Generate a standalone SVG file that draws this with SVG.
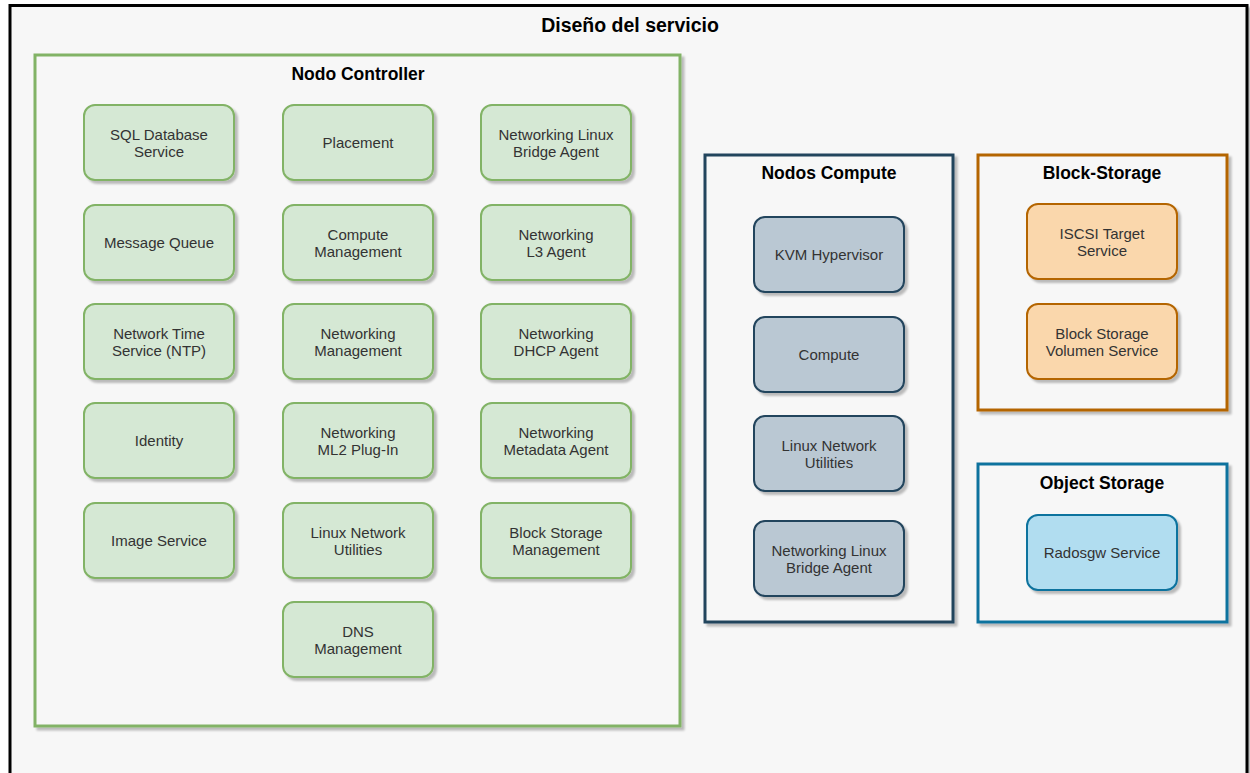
<svg xmlns="http://www.w3.org/2000/svg" width="1250" height="773" viewBox="0 0 1250 773">
  <defs>
    <filter id="shadow" x="-10%" y="-10%" width="130%" height="130%">
      <feOffset in="SourceAlpha" dx="3" dy="3" result="off"/>
      <feGaussianBlur in="off" stdDeviation="0.8" result="blur"/>
      <feComponentTransfer in="blur" result="sh">
        <feFuncA type="linear" slope="0.25"/>
      </feComponentTransfer>
      <feMerge>
        <feMergeNode in="sh"/>
        <feMergeNode in="SourceGraphic"/>
      </feMerge>
    </filter>
    <style>
      .frame { fill: #f7f7f7; stroke-width: 3; filter: url(#shadow); }
      .box { stroke-width: 2; filter: url(#shadow); }
      .green { fill: #d5e8d4; stroke: #82b366; }
      .slate { fill: #bac8d3; stroke: #23445d; }
      .orange { fill: #fad7ac; stroke: #b46504; }
      .blue { fill: #b1ddf0; stroke: #10739e; }
      .title { font-family: "Liberation Sans", Arial, sans-serif; font-weight: bold; font-size: 17.5px; fill: #000; text-anchor: middle; }
      .main { font-size: 19.5px; }
      .label { font-family: "Liberation Sans", Arial, sans-serif; font-size: 15px; fill: #333; text-anchor: middle; }
    </style>
  </defs>

  <rect x="0" y="0" width="1250" height="773" fill="#ffffff"/>

  <!-- outer frame -->
  <g id="servicio">
    <rect class="frame" x="10" y="5.5" width="1237" height="790" stroke="#000"/>
    <text class="title main" x="630" y="32">Diseño del servicio</text>
  </g>

  <!-- controller node container -->
  <g id="controller">
    <rect class="frame" x="35" y="55" width="645" height="671" stroke="#82b366"/>
    <text class="title" x="358" y="80">Nodo Controller</text>
  </g>

  <g id="sql"><rect class="box green" x="84" y="105" width="150" height="75" rx="11"/><text class="label" x="159" y="140">SQL Database</text><text class="label" x="159" y="157">Service</text></g>
  <g id="placement"><rect class="box green" x="283" y="105" width="150" height="75" rx="11"/><text class="label" x="358" y="148">Placement</text></g>
  <g id="linuxbridge-ctl"><rect class="box green" x="481" y="105" width="150" height="75" rx="11"/><text class="label" x="556" y="140">Networking Linux</text><text class="label" x="556" y="157">Bridge Agent</text></g>

  <g id="mq"><rect class="box green" x="84" y="205" width="150" height="75" rx="11"/><text class="label" x="159" y="248">Message Queue</text></g>
  <g id="compute-mgmt"><rect class="box green" x="283" y="205" width="150" height="75" rx="11"/><text class="label" x="358" y="240">Compute</text><text class="label" x="358" y="257">Management</text></g>
  <g id="l3"><rect class="box green" x="481" y="205" width="150" height="75" rx="11"/><text class="label" x="556" y="240">Networking</text><text class="label" x="556" y="257">L3 Agent</text></g>

  <g id="ntp"><rect class="box green" x="84" y="304" width="150" height="75" rx="11"/><text class="label" x="159" y="339">Network Time</text><text class="label" x="159" y="356">Service (NTP)</text></g>
  <g id="net-mgmt"><rect class="box green" x="283" y="304" width="150" height="75" rx="11"/><text class="label" x="358" y="339">Networking</text><text class="label" x="358" y="356">Management</text></g>
  <g id="dhcp"><rect class="box green" x="481" y="304" width="150" height="75" rx="11"/><text class="label" x="556" y="339">Networking</text><text class="label" x="556" y="356">DHCP Agent</text></g>

  <g id="identity"><rect class="box green" x="84" y="403" width="150" height="75" rx="11"/><text class="label" x="159" y="446">Identity</text></g>
  <g id="ml2"><rect class="box green" x="283" y="403" width="150" height="75" rx="11"/><text class="label" x="358" y="438">Networking</text><text class="label" x="358" y="455">ML2 Plug-In</text></g>
  <g id="metadata"><rect class="box green" x="481" y="403" width="150" height="75" rx="11"/><text class="label" x="556" y="438">Networking</text><text class="label" x="556" y="455">Metadata Agent</text></g>

  <g id="image"><rect class="box green" x="84" y="503" width="150" height="75" rx="11"/><text class="label" x="159" y="546">Image Service</text></g>
  <g id="netutils-ctl"><rect class="box green" x="283" y="503" width="150" height="75" rx="11"/><text class="label" x="358" y="538">Linux Network</text><text class="label" x="358" y="555">Utilities</text></g>
  <g id="block-mgmt"><rect class="box green" x="481" y="503" width="150" height="75" rx="11"/><text class="label" x="556" y="538">Block Storage</text><text class="label" x="556" y="555">Management</text></g>

  <g id="dns"><rect class="box green" x="283" y="602" width="150" height="75" rx="11"/><text class="label" x="358" y="637">DNS</text><text class="label" x="358" y="654">Management</text></g>

  <!-- compute nodes container -->
  <g id="compute">
    <rect class="frame" x="705" y="155" width="248" height="467" stroke="#23445d"/>
    <text class="title" x="829" y="179">Nodos Compute</text>
  </g>
  <g id="kvm"><rect class="box slate" x="754" y="217" width="150" height="75" rx="11"/><text class="label" x="829" y="260">KVM Hypervisor</text></g>
  <g id="compute-svc"><rect class="box slate" x="754" y="317" width="150" height="75" rx="11"/><text class="label" x="829" y="360">Compute</text></g>
  <g id="netutils-cmp"><rect class="box slate" x="754" y="416" width="150" height="75" rx="11"/><text class="label" x="829" y="451">Linux Network</text><text class="label" x="829" y="468">Utilities</text></g>
  <g id="linuxbridge-cmp"><rect class="box slate" x="754" y="521" width="150" height="75" rx="11"/><text class="label" x="829" y="556">Networking Linux</text><text class="label" x="829" y="573">Bridge Agent</text></g>

  <!-- block storage container -->
  <g id="block-storage">
    <rect class="frame" x="978" y="155" width="249" height="255" stroke="#b46504"/>
    <text class="title" x="1102" y="179">Block-Storage</text>
  </g>
  <g id="iscsi"><rect class="box orange" x="1027" y="204" width="150" height="75" rx="11"/><text class="label" x="1102" y="239">ISCSI Target</text><text class="label" x="1102" y="256">Service</text></g>
  <g id="volume"><rect class="box orange" x="1027" y="304" width="150" height="75" rx="11"/><text class="label" x="1102" y="339">Block Storage</text><text class="label" x="1102" y="356">Volumen Service</text></g>

  <!-- object storage container -->
  <g id="object-storage">
    <rect class="frame" x="978" y="464" width="249" height="158" stroke="#10739e"/>
    <text class="title" x="1102" y="489">Object Storage</text>
  </g>
  <g id="radosgw"><rect class="box blue" x="1027" y="515" width="150" height="75" rx="11"/><text class="label" x="1102" y="558">Radosgw Service</text></g>

  <!-- no connectors in this layout -->
  <g id="connectors"/>
</svg>
